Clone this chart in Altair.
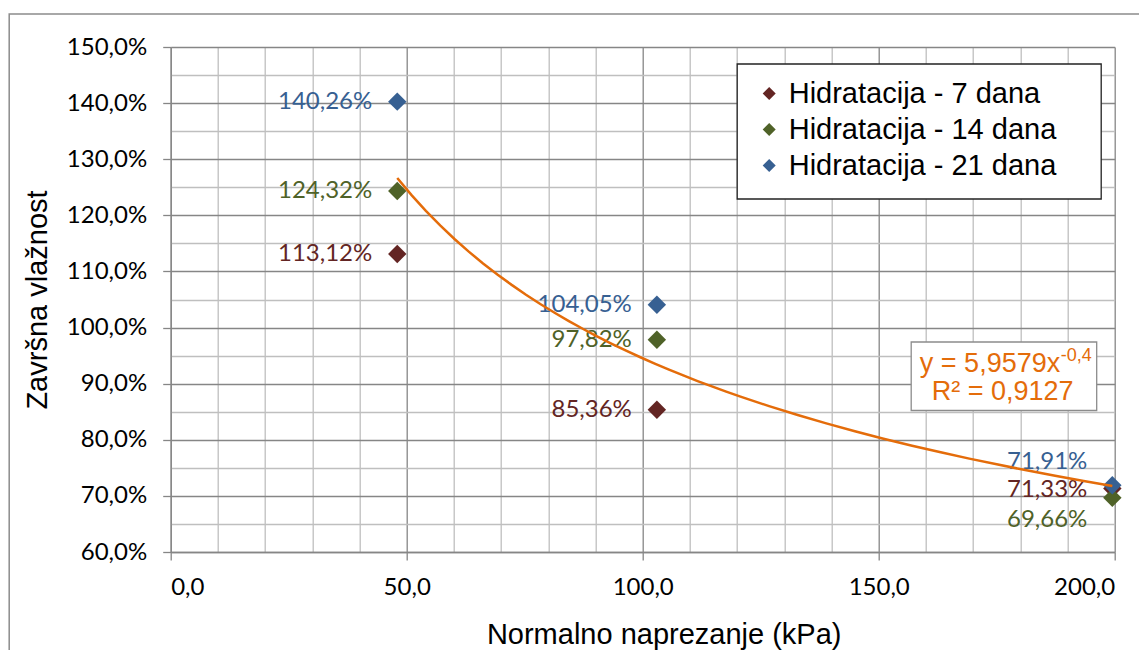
import altair as alt
import pandas as pd

# ---- data ----
stress_kpa = [48, 103, 199.5]
series_names = ["Hidratacija - 7 dana", "Hidratacija - 14 dana", "Hidratacija - 21 dana"]
hid_7 = [113.12, 85.36, 71.33]
hid_14 = [124.32, 97.82, 69.66]
hid_21 = [140.26, 104.05, 71.91]
series_colors = ["#632523", "#4F6228", "#376092"]

x_major = [0, 50, 100, 150, 200]
x_minor = [10, 20, 30, 40, 60, 70, 80, 90, 110, 120, 130, 140, 160, 170, 180, 190]
y_major = [60, 70, 80, 90, 100, 110, 120, 130, 140, 150]
y_minor = [65, 75, 85, 95, 105, 115, 125, 135, 145]

eq_main = "y = 5,9579x"
eq_exp = "-0,4"
eq_r2 = "R² = 0,9127"
trend_color = "#E46C0A"

rows = []
for name, vals in zip(series_names, [hid_7, hid_14, hid_21]):
    for xv, yv in zip(stress_kpa, vals):
        rows.append({"x": xv, "y": yv, "serija": name})
df = pd.DataFrame(rows)

W, H = 944, 505
MAJOR = "#868686"
MINOR = "#BFBFBF"
TICK_FONT = "Lato"
TEXT_FONT = "Liberation Sans"

xscale = alt.Scale(domain=[0, 200], nice=False, zero=False)
yscale = alt.Scale(domain=[60, 150], nice=False, zero=False)
cscale = alt.Scale(domain=series_names, range=series_colors)

x_axis_major = alt.Axis(
    values=x_major, grid=True, gridColor=MAJOR, gridWidth=1.3,
    domainColor=MAJOR, domainWidth=1.3, tickColor=MAJOR, tickWidth=1.3, tickSize=8,
    labelExpr="replace(format(datum.value, '.1f'), '.', ',')",
    labelFont=TICK_FONT, labelFontSize=24, labelColor="black", labelPadding=15,
    title="Normalno naprezanje (kPa)", titleFont=TEXT_FONT, titleFontSize=29,
    titleFontWeight="normal", titleColor="black", titleX=493, titleY=91,
    titleBaseline="alphabetic", titleAlign="center",
)
y_axis_major = alt.Axis(
    values=y_major, grid=True, gridColor=MAJOR, gridWidth=1.3,
    domainColor=MAJOR, domainWidth=1.3, tickColor=MAJOR, tickWidth=1.3, tickSize=8,
    labelExpr="replace(format(datum.value, '.1f'), '.', ',') + '%'",
    labelFont=TICK_FONT, labelFontSize=24, labelColor="black", labelPadding=16,
    title="Završna vlažnost", titleFont=TEXT_FONT, titleFontSize=29,
    titleFontWeight="normal", titleColor="black", titleX=-124, titleY=252.5,
    titleAngle=270, titleBaseline="alphabetic", titleAlign="center",
)
x_axis_minor = alt.Axis(orient="top", values=x_minor, grid=True, gridColor=MINOR,
                        gridWidth=1.3, labels=False, ticks=False, domain=False, title=None)
y_axis_minor = alt.Axis(orient="right", values=y_minor, grid=True, gridColor=MINOR,
                        gridWidth=1.3, labels=False, ticks=False, domain=False, title=None)

base = alt.Chart(df)
one = alt.Chart(pd.DataFrame({"k": [0]}))

outer_border = one.mark_rect(fillOpacity=0, stroke="#8C8C8C", strokeWidth=1.5).encode(
    x=alt.value(-161.5), x2=alt.value(2000), y=alt.value(-33), y2=alt.value(2000)
)

points = base.mark_point(shape="diamond", filled=True, size=340, opacity=1).encode(
    x=alt.X("x:Q", scale=xscale, axis=x_axis_major),
    y=alt.Y("y:Q", scale=yscale, axis=y_axis_major),
    color=alt.Color("serija:N", scale=cscale, legend=alt.Legend(
        title=None, orient="none", legendX=584, legendY=32,
        symbolType="diamond", symbolSize=170, symbolStrokeWidth=0,
        labelFont=TEXT_FONT, labelFontSize=29, labelColor="black", labelLimit=500,
        labelOffset=5, rowPadding=6, padding=0,
    )),
)

labeled = base.transform_calculate(
    label="replace(format(datum.y, '.2f'), '.', ',') + '%'"
)


def label_layer(chart, dy):
    return chart.mark_text(align="right", baseline="middle", dx=-25, dy=dy,
                           font=TICK_FONT, fontSize=24).encode(
        x=alt.X("x:Q", scale=xscale, axis=None),
        y=alt.Y("y:Q", scale=yscale, axis=None),
        text="label:N",
        color=alt.Color("serija:N", scale=cscale, legend=None),
    )


labels_left = label_layer(labeled.transform_filter("datum.x < 150"), 0)
right_dy = {series_names[0]: 2, series_names[1]: 22, series_names[2]: -23}
labels_right = [
    label_layer(labeled.transform_filter(
        f"datum.x > 150 && datum.serija == '{name}'"), dy)
    for name, dy in right_dy.items()
]

trend = base.transform_regression("x", "y", method="pow").mark_line(
    color=trend_color, strokeWidth=2.5
).encode(
    x=alt.X("x:Q", scale=xscale, axis=x_axis_minor),
    y=alt.Y("y:Q", scale=yscale, axis=y_axis_minor),
)

legend_box = one.mark_rect(fill="white", stroke="#222222", strokeWidth=1.3).encode(
    x=alt.value(566.5), x2=alt.value(930.5), y=alt.value(17), y2=alt.value(152)
)

eq_box = one.mark_rect(fill="white", stroke="#8C8C8C", strokeWidth=1.3).encode(
    x=alt.value(740.5), x2=alt.value(926), y=alt.value(295), y2=alt.value(363.5)
)
eq_text1 = one.mark_text(align="right", baseline="alphabetic", font=TEXT_FONT,
                         fontSize=27, color=trend_color).encode(
    x=alt.value(889.5), y=alt.value(325), text=alt.value(eq_main))
eq_text_sup = one.mark_text(align="left", baseline="alphabetic", font=TEXT_FONT,
                            fontSize=18, color=trend_color).encode(
    x=alt.value(890), y=alt.value(314), text=alt.value(eq_exp))
eq_text2 = one.mark_text(align="center", baseline="alphabetic", font=TEXT_FONT,
                         fontSize=27, color=trend_color).encode(
    x=alt.value(832), y=alt.value(353), text=alt.value(eq_r2))

chart = alt.layer(
    outer_border, legend_box, points, labels_left, *labels_right, trend,
    eq_box, eq_text1, eq_text_sup, eq_text2,
).resolve_axis(x="independent", y="independent").properties(
    width=W, height=H,
    autosize=alt.AutoSizeParams(type="none"),
    padding={"left": 162.7, "top": 39, "right": 24.3, "bottom": 98},
    background="white",
).configure_view(stroke=None)

chart.save("out.html", embed_options={"renderer": "svg", "actions": False})
